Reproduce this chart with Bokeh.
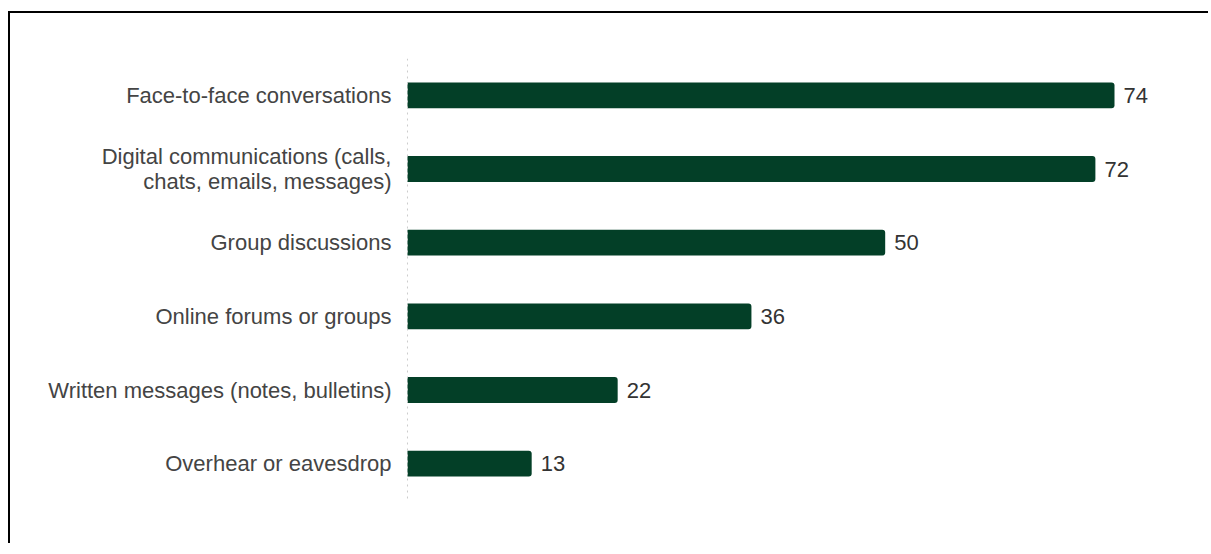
from bokeh.plotting import figure
from bokeh.models import Range1d, ColumnDataSource, Span
from bokeh.core.properties import value
from bokeh.embed import file_html
from bokeh.resources import INLINE

categories = [
    "Face-to-face conversations",
    "Digital communications (calls, chats, emails, messages)",
    "Group discussions",
    "Online forums or groups",
    "Written messages (notes, bulletins)",
    "Overhear or eavesdrop",
]
display_labels = [
    "Face-to-face conversations",
    "Digital communications (calls,\nchats, emails, messages)",
    "Group discussions",
    "Online forums or groups",
    "Written messages (notes, bulletins)",
    "Overhear or eavesdrop",
]
values = [74, 72, 50, 36, 22, 13]

factors = list(reversed(categories))
src = ColumnDataSource(dict(cat=categories, val=values,
                            lab=[str(v) for v in values],
                            name=display_labels,
                            zero=[0] * len(values)))

p = figure(
    y_range=factors,
    x_range=Range1d(-41.55, 81.85),
    width=1200, height=532,
    output_backend="svg", toolbar_location=None,
    min_border_left=0, min_border_right=21,
    min_border_top=45, min_border_bottom=45,
)
p.styles = {"border-top": "2px solid black", "border-left": "2px solid black",
            "margin-top": "11px", "margin-left": "8px"}
p.outline_line_color = None
p.background_fill_color = "white"
p.border_fill_color = "white"
p.grid.grid_line_color = None
p.xaxis.visible = False
p.yaxis.visible = False

p.add_layout(Span(location=0, dimension="height", line_color="#cccccc",
                  line_dash="dotted", line_width=1))

p.hbar(y="cat", right="val", left="zero", height=0.35, source=src,
       fill_color="#033f27", line_color=None,
       border_radius=(0, 3, 3, 0))

p.text(x="val", y="cat", text="lab", source=src, x_offset=9,
       text_baseline="middle", text_align="left",
       text_font=value("Liberation Sans"), text_font_size="22px",
       text_color="#333333")

p.text(x="zero", y="cat", text="name", source=src, x_offset=-16,
       text_baseline="middle", text_align="right",
       text_font=value("Liberation Sans"), text_font_size="22px",
       text_color="#444444", text_line_height=0.98)

open("out.html", "w").write(file_html(p, INLINE))
